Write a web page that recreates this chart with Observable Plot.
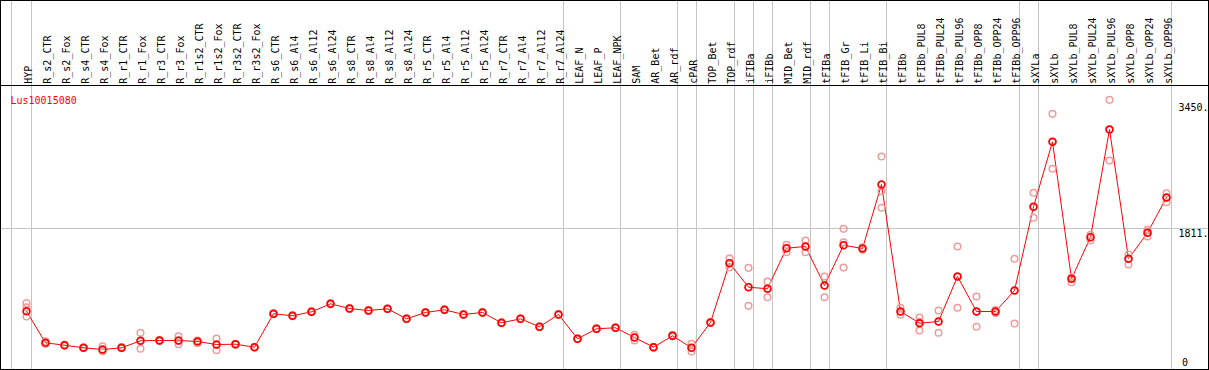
<!DOCTYPE html>
<html>
<head>
<meta charset="utf-8">
<script src="https://cdn.jsdelivr.net/npm/d3@7"></script>
<script src="https://cdn.jsdelivr.net/npm/@observablehq/plot@0.6"></script>
<style>
  html, body { margin: 0; padding: 0; background: #fff; }
  #chart { width: 1209px; height: 370px; }
</style>
</head>
<body>
<div id="chart"></div>
<script>
const title = "Lus10015080";

const categories = [
  "HYP","R_s2_CTR","R_s2_Fox","R_s4_CTR","R_s4_Fox","R_r1_CTR","R_r1_Fox","R_r3_CTR","R_r3_Fox",
  "R_r1s2_CTR","R_r1s2_Fox","R_r3s2_CTR","R_r3s2_Fox","R_s6_CTR","R_s6_Al4","R_s6_Al12","R_s6_Al24",
  "R_s8_CTR","R_s8_Al4","R_s8_Al12","R_s8_Al24","R_r5_CTR","R_r5_Al4","R_r5_Al12","R_r5_Al24",
  "R_r7_CTR","R_r7_Al4","R_r7_Al12","R_r7_Al24","LEAF_N","LEAF_P","LEAF_NPK","SAM","AR_Bet","AR_rdf",
  "cPAR","TOP_Bet","TOP_rdf","iFIBa","iFIBb","MID_Bet","MID_rdf","tFIBa","tFIB_Gr","tFIB_Li","tFIB_Bi",
  "tFIBb","tFIBb_PUL8","tFIBb_PUL24","tFIBb_PUL96","tFIBb_OPP8","tFIBb_OPP24","tFIBb_OPP96",
  "sXYLa","sXYLb","sXYLb_PUL8","sXYLb_PUL24","sXYLb_PUL96","sXYLb_OPP8","sXYLb_OPP24","sXYLb_OPP96"
];

const means = [
  730, 316, 285, 251, 229, 251, 343, 347, 347,
  333, 294, 298, 259, 696, 670, 722, 826,
  765, 739, 761, 630, 713, 748, 687, 713,
  578, 630, 526, 687, 369, 500, 513, 386, 259, 408,
  251, 582, 1358, 1044, 1023, 1554, 1576, 1066, 1592, 1550, 2387,
  726, 573, 595, 1184, 726, 726, 1000,
  2095, 2945, 1153, 1698, 3106, 1415, 1755, 2217
];

const rep1 = [
  835, 335, 292, 255, 272, 262, 447, 355, 403,
  347, 373, 305, 265, 702, 676, 728, 834,
  770, 744, 766, 636, 718, 754, 692, 718,
  583, 636, 531, 692, 374, 505, 518, 421, 265, 420,
  303, 588, 1423, 1297, 1118, 1598, 1654, 1184, 1807, 1565, 2753,
  774, 647, 739, 1576, 922, 745, 1415,
  2278, 3311, 1170, 1728, 3494, 1471, 1794, 2273
];

const rep2 = [
  780, 310, 280, 248, 216, 245, 343, 345, 340,
  340, 290, 298, 258, 695, 670, 722, 826,
  765, 739, 761, 630, 713, 748, 687, 713,
  578, 630, 526, 687, 369, 500, 513, 390, 259, 408,
  251, 582, 1358, 1044, 1030, 1554, 1576, 1066, 1632, 1550, 2299,
  726, 590, 595, 1184, 726, 726, 1000,
  2095, 2945, 1153, 1698, 3106, 1415, 1755, 2217
];

const rep3 = [
  660, 305, 283, 250, 205, 248, 238, 340, 298,
  312, 220, 292, 255, 690, 664, 716, 818,
  760, 734, 756, 624, 708, 742, 682, 708,
  573, 624, 521, 682, 364, 495, 508, 347, 253, 400,
  203, 576, 1305, 800, 913, 1501, 1501, 913, 1300, 1535, 2082,
  683, 477, 447, 774, 526, 705, 569,
  1951, 2592, 1109, 1654, 2701, 1340, 1707, 2155
];

// categories after which a group separator is drawn
const groupEnds = ["HYP","R_r7_Al24","LEAF_NPK","AR_rdf","cPAR","TOP_rdf","iFIBa","iFIBb",
                   "MID_rdf","tFIBa","tFIB_Bi","tFIBb_OPP96","sXYLa","sXYLb_OPP96"];
const gridValues = [1811];
const topTicks = [1811, 3450];
const zeroTick = [0];

const meanData = categories.map((c, i) => ({cat: c, value: means[i]}));
const repData = categories.flatMap((c, i) => [rep1[i], rep2[i], rep3[i]].map(v => ({cat: c, value: v})));

const W = 1209, H = 370;
const mTop = 102.7, mBottom = 3.5, mLeft = 26, mRight = 43;

const chart = Plot.plot({
  width: W,
  height: H,
  marginTop: mTop,
  marginBottom: mBottom,
  marginLeft: mLeft,
  marginRight: mRight,
  style: {fontFamily: "'DejaVu Sans Mono', monospace", fontSize: "10px", background: "#fff", color: "#000", overflow: "visible"},
  x: {type: "point", domain: categories, padding: 0, axis: null},
  y: {domain: [0, 3450], axis: null},
  marks: [
    // group separators
    Plot.ruleX(groupEnds, {x: d => d, dx: 4.5, stroke: "#c4c4c4", strokeWidth: 1, insetTop: -mTop, insetBottom: -mBottom, shapeRendering: "crispEdges"}),
    Plot.ruleX([categories[0]], {x: d => d, dx: -15.5, stroke: "#c4c4c4", strokeWidth: 1, insetTop: -mTop, insetBottom: -mBottom, shapeRendering: "crispEdges"}),
    // horizontal grid line
    Plot.ruleY(gridValues, {y: d => d, stroke: "#c4c4c4", strokeWidth: 1, insetLeft: -mLeft, insetRight: -mRight, shapeRendering: "crispEdges"}),
    // data
    Plot.line(meanData, {x: "cat", y: "value", stroke: "red", strokeWidth: 1}),
    Plot.dot(repData, {x: "cat", y: "value", r: 3.3, stroke: "#ef9c9c", strokeWidth: 1.5, fill: "none"}),
    Plot.dot(meanData, {x: "cat", y: "value", r: 3.4, stroke: "red", strokeWidth: 1.7, fill: "none"}),
    // column labels
    Plot.text(categories, {x: d => d, text: d => d, frameAnchor: "top", dx: -2, dy: -19.5, rotate: -90, textAnchor: "start", fill: "#000"}),
    // title
    Plot.text([title], {text: d => d, frameAnchor: "top-left", dx: -16, dy: -6, textAnchor: "start", fill: "red"}),
    // y labels
    Plot.text(topTicks, {y: d => d, text: d => d + ".", frameAnchor: "right", dx: 12, dy: 1, textAnchor: "start", lineAnchor: "top", fill: "#000"}),
    Plot.text(zeroTick, {y: d => d, text: d => String(d), frameAnchor: "right", dx: 15.5, dy: -8.5, textAnchor: "start", lineAnchor: "top", fill: "#000"})
  ]
});

document.getElementById("chart").appendChild(chart);

// chart chrome: outer border and header separator
const svg = d3.select(chart);
svg.append("rect").attr("x", 0.5).attr("y", 0.5).attr("width", W - 1).attr("height", H - 1)
  .attr("fill", "none").attr("stroke", "#000").attr("stroke-width", 1.5).attr("shape-rendering", "crispEdges");
svg.append("line").attr("x1", 0).attr("x2", W).attr("y1", 85.5).attr("y2", 85.5)
  .attr("stroke", "#000").attr("stroke-width", 1.5).attr("shape-rendering", "crispEdges");
</script>
</body>
</html>
